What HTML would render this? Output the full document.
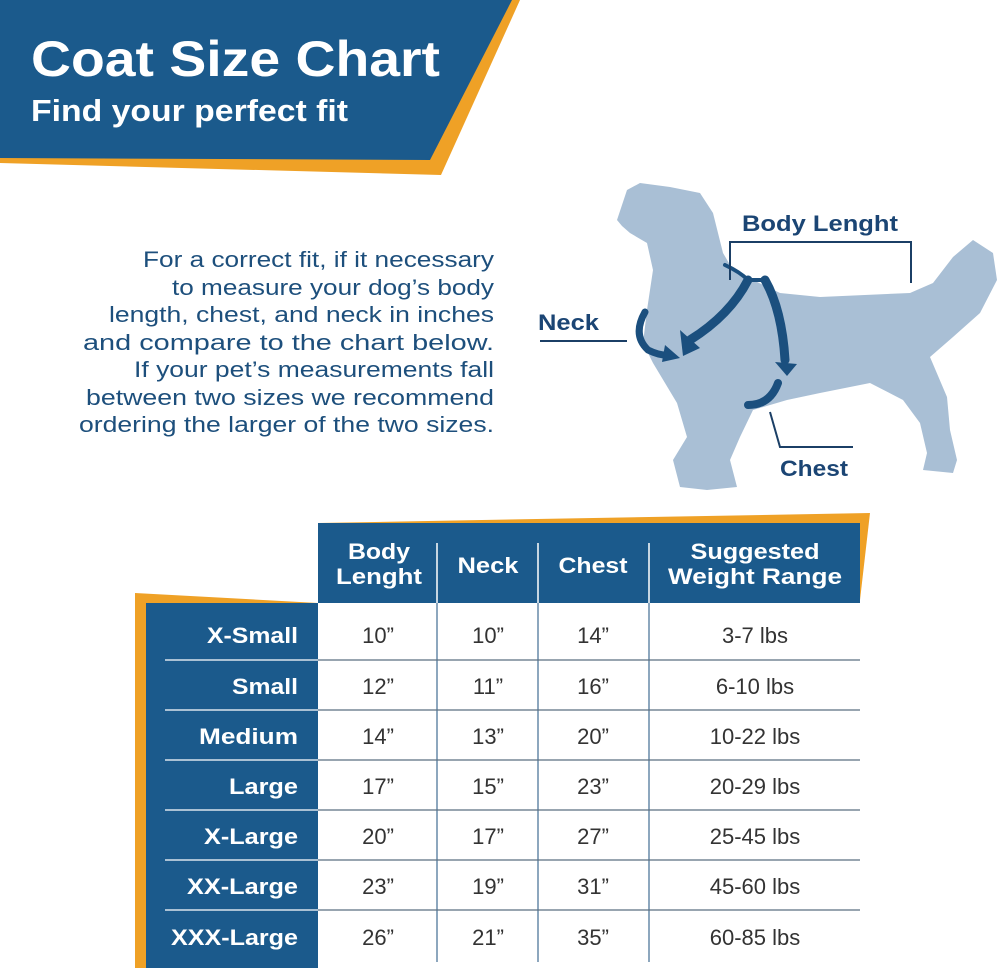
<!DOCTYPE html>
<html><head><meta charset="utf-8"><style>
html,body{margin:0;padding:0;background:#fff;}
svg{display:block;font-family:"Liberation Sans",sans-serif;}
</style></head><body>
<svg width="1000" height="968" viewBox="0 0 1000 968" xmlns="http://www.w3.org/2000/svg">
<rect width="1000" height="968" fill="#fff"/>
<polygon points="0,0 520,0 441,175 0,163" fill="#efa126"/>
<polygon points="0,0 512,0 430,160 0,158" fill="#1b5a8c"/>
<text x="31" y="76" font-size="50" font-weight="bold" fill="#fff" textLength="409" lengthAdjust="spacingAndGlyphs">Coat Size Chart</text>
<text x="31" y="121" font-size="31" font-weight="bold" fill="#fff" textLength="317" lengthAdjust="spacingAndGlyphs">Find your perfect fit</text>
<g font-size="22" fill="#1d4f7c" text-anchor="end">
<text x="494" y="267" textLength="351" lengthAdjust="spacingAndGlyphs">For a correct fit, if it necessary</text>
<text x="494" y="295" textLength="322" lengthAdjust="spacingAndGlyphs">to measure your dog’s body</text>
<text x="494" y="322" textLength="385" lengthAdjust="spacingAndGlyphs">length, chest, and neck in inches</text>
<text x="494" y="350" textLength="411" lengthAdjust="spacingAndGlyphs">and compare to the chart below.</text>
<text x="494" y="377" textLength="360" lengthAdjust="spacingAndGlyphs">If your pet’s measurements fall</text>
<text x="494" y="405" textLength="408" lengthAdjust="spacingAndGlyphs">between two sizes we recommend</text>
<text x="494" y="432" textLength="415" lengthAdjust="spacingAndGlyphs">ordering the larger of the two sizes.</text>
</g>
<path d="M617,220 L622,205 L627,190 L640,183 L670,187 L700,193 L713,213 L723,253 L733,270 L753,280 L780,293 L820,297 L910,293 L933,283 L953,257 L973,240 L993,253 L997,280 L980,313 L953,337 L930,357 L947,397 L950,430 L957,460 L953,473 L923,470 L927,453 L920,423 L903,400 L870,383 L820,393 L787,400 L753,410 L740,437 L730,460 L737,487 L707,490 L680,487 L673,460 L687,437 L677,403 L653,363 L643,343 L647,310 L653,270 L647,243 L630,233 L622,226 Z" fill="#a9bfd5"/>
<g fill="none" stroke="#1b4f7e" stroke-linecap="round">
<path d="M645,312 Q632,335 648,350 Q660,356 670,355" stroke-width="7"/>
<path d="M748,280 Q730,315 690,340" stroke-width="9"/>
<path d="M765,280 Q782,310 785,360" stroke-width="9"/>
<path d="M778,383 Q770,405 748,405" stroke-width="8"/>
<path d="M725,265 Q740,272 748,280 L765,280" stroke-width="4"/>
</g>
<g fill="#1b4f7e">
<polygon points="665,345 680,358 662,362"/>
<polygon points="680,330 700,348 683,356"/>
<polygon points="775,362 797,364 787,376"/>
</g>
<g fill="none" stroke="#1b3f66" stroke-width="2">
<polyline points="730,280 730,242 911,242 911,283"/>
<line x1="540" y1="341" x2="627" y2="341"/>
<polyline points="770,412 780,447 853,447"/>
</g>
<g font-size="22" font-weight="bold" fill="#1b4574">
<text x="742" y="231" textLength="156" lengthAdjust="spacingAndGlyphs">Body Lenght</text>
<text x="538" y="330" textLength="61" lengthAdjust="spacingAndGlyphs">Neck</text>
<text x="780" y="476" textLength="68" lengthAdjust="spacingAndGlyphs">Chest</text>
</g>
<polygon points="318,523 870,513 860,600 318,600" fill="#efa126"/>
<polygon points="135,593 318,603 318,968 135,968" fill="#efa126"/>
<rect x="318" y="523" width="542" height="80" fill="#1b5a8c"/>
<rect x="146" y="603" width="172" height="365" fill="#1b5a8c"/>
<g stroke="#fff" stroke-width="1.5">
<line x1="437" y1="543" x2="437" y2="603"/><line x1="538" y1="543" x2="538" y2="603"/><line x1="649" y1="543" x2="649" y2="603"/>
</g>
<g stroke="#1b4f7e" stroke-width="1">
<line x1="437" y1="603" x2="437" y2="962"/><line x1="538" y1="603" x2="538" y2="962"/><line x1="649" y1="603" x2="649" y2="962"/>
</g>
<g stroke-width="1.2">
<g stroke="#fff">
<line x1="165" y1="660" x2="318" y2="660"/><line x1="165" y1="710" x2="318" y2="710"/><line x1="165" y1="760" x2="318" y2="760"/><line x1="165" y1="810" x2="318" y2="810"/><line x1="165" y1="860" x2="318" y2="860"/><line x1="165" y1="910" x2="318" y2="910"/>
</g>
<g stroke="#5b6f80">
<line x1="318" y1="660" x2="860" y2="660"/><line x1="318" y1="710" x2="860" y2="710"/><line x1="318" y1="760" x2="860" y2="760"/><line x1="318" y1="810" x2="860" y2="810"/><line x1="318" y1="860" x2="860" y2="860"/><line x1="318" y1="910" x2="860" y2="910"/>
</g>
</g>
<g font-size="22" font-weight="bold" fill="#fff" text-anchor="middle">
<text x="379" y="559" textLength="62" lengthAdjust="spacingAndGlyphs">Body</text><text x="379" y="584" textLength="86" lengthAdjust="spacingAndGlyphs">Lenght</text>
<text x="488" y="573" textLength="61" lengthAdjust="spacingAndGlyphs">Neck</text>
<text x="593" y="573" textLength="69" lengthAdjust="spacingAndGlyphs">Chest</text>
<text x="755" y="559" textLength="129" lengthAdjust="spacingAndGlyphs">Suggested</text><text x="755" y="584" textLength="174" lengthAdjust="spacingAndGlyphs">Weight Range</text>
</g>
<g font-size="22" font-weight="bold" fill="#fff" text-anchor="end">
<text x="298" y="643" textLength="91" lengthAdjust="spacingAndGlyphs">X-Small</text><text x="298" y="694" textLength="66" lengthAdjust="spacingAndGlyphs">Small</text><text x="298" y="744" textLength="99" lengthAdjust="spacingAndGlyphs">Medium</text><text x="298" y="794" textLength="69" lengthAdjust="spacingAndGlyphs">Large</text><text x="298" y="844" textLength="94" lengthAdjust="spacingAndGlyphs">X-Large</text><text x="298" y="894" textLength="111" lengthAdjust="spacingAndGlyphs">XX-Large</text><text x="298" y="945" textLength="127" lengthAdjust="spacingAndGlyphs">XXX-Large</text>
</g>
<g font-size="22" fill="#333" text-anchor="middle">
<text x="378" y="643">10”</text><text x="488" y="643">10”</text><text x="593" y="643">14”</text><text x="755" y="643">3-7 lbs</text>
<text x="378" y="694">12”</text><text x="488" y="694">11”</text><text x="593" y="694">16”</text><text x="755" y="694">6-10 lbs</text>
<text x="378" y="744">14”</text><text x="488" y="744">13”</text><text x="593" y="744">20”</text><text x="755" y="744">10-22 lbs</text>
<text x="378" y="794">17”</text><text x="488" y="794">15”</text><text x="593" y="794">23”</text><text x="755" y="794">20-29 lbs</text>
<text x="378" y="844">20”</text><text x="488" y="844">17”</text><text x="593" y="844">27”</text><text x="755" y="844">25-45 lbs</text>
<text x="378" y="894">23”</text><text x="488" y="894">19”</text><text x="593" y="894">31”</text><text x="755" y="894">45-60 lbs</text>
<text x="378" y="945">26”</text><text x="488" y="945">21”</text><text x="593" y="945">35”</text><text x="755" y="945">60-85 lbs</text>
</g>
</svg>
</body></html>
